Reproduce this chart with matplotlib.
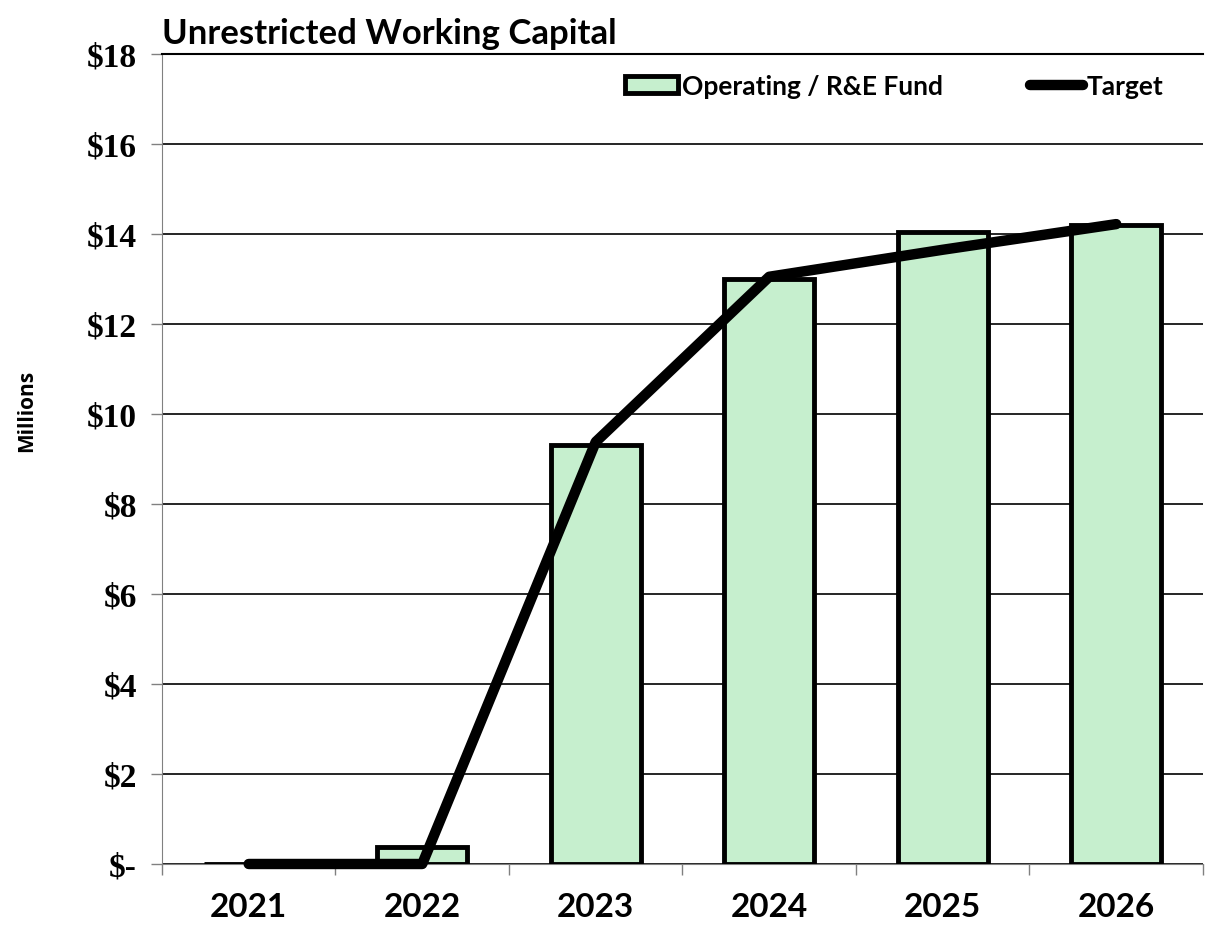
import matplotlib.pyplot as plt
import numpy as np

years = ['2021', '2022', '2023', '2024', '2025', '2026']
fund = [0.0, 0.37, 9.3, 13.0, 14.05, 14.2]
target = [0.0, 0.0, 9.38, 13.05, 13.65, 14.22]
y_ticks = [0, 2, 4, 6, 8, 10, 12, 14, 16, 18]
y_labels = ['$-', '$2', '$4', '$6', '$8', '$10', '$12', '$14', '$16', '$18']

fig = plt.figure(figsize=(12.06, 9.29), dpi=100)
ax = fig.add_axes([0.1343, 0.0689, 0.8632, 0.8719])

x = np.arange(len(years))
bars = ax.bar(x, fund, width=0.52, color='#C6EFCE', edgecolor='black', linewidth=3.5,
              label='Operating / R&E Fund', zorder=3)
line, = ax.plot(x, target, color='black', linewidth=7.5, solid_capstyle='round',
                solid_joinstyle='round', label='Target', zorder=4, clip_on=False)

ax.set_xlim(-0.5, len(years) - 0.5)
ax.set_ylim(0, 18)
ax.set_yticks(y_ticks)
ax.set_yticklabels(y_labels, fontfamily='Liberation Serif', fontweight='bold', fontsize=24)
ax.set_xticks(x)
ax.set_xticklabels(years, fontfamily='Lato', fontweight='bold', fontsize=24)
ax.set_xticks(np.arange(-0.5, len(years)), minor=True)
ax.tick_params(axis='x', which='major', length=0, pad=20)
ax.tick_params(axis='x', which='minor', length=8, color='#808080', width=1)
ax.tick_params(axis='y', length=8, color='#808080', width=1, pad=10)

ax.grid(axis='y', color='black', linewidth=1.2, zorder=0)
ax.set_axisbelow(True)
ax.spines['right'].set_visible(False)
ax.spines['top'].set_color('black')
ax.spines['top'].set_linewidth(1.5)
ax.spines['left'].set_color('#808080')
ax.spines['bottom'].set_color('#808080')

ax.set_ylabel('Millions', fontfamily='Open Sans', fontweight='bold', fontsize=15)
ax.yaxis.set_label_coords(-0.12, 0.56)
ax.set_title('Unrestricted Working Capital', loc='left', fontfamily='Lato',
             fontweight='bold', fontsize=25, pad=8)

leg = ax.legend([bars, line], ['Operating / R&E Fund', 'Target'],
                loc='upper right', ncol=2, frameon=False, bbox_to_anchor=(0.985, 1.005),
                prop={'family': 'Lato', 'weight': 'bold', 'size': 19},
                handlelength=2.0, handleheight=0.6, handletextpad=0.15, columnspacing=3.3)

plt.savefig('out.png', dpi=100)
